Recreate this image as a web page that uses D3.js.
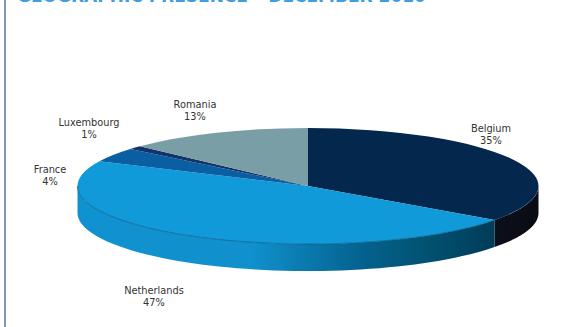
<!DOCTYPE html>
<html>
<head>
<meta charset="utf-8">
<style>
html, body { margin: 0; padding: 0; background: #fff; }
svg { display: block; }
text { font-family: "DejaVu Sans", sans-serif; }
</style>
<script src="https://cdn.jsdelivr.net/npm/d3@7"></script>
</head>
<body>
<div id="chart"></div>
<script>
// Geographic split of the portfolio, in percent, clockwise from twelve o'clock
const countries = ["Belgium", "Netherlands", "France", "Luxembourg", "Romania"];
const shares = [35, 47, 4, 1, 13];
const topColors = ["#03274d", "#109ada", "#0a5fa3", "#12336b", "#7a9ea6"];
const titleText = "GEOGRAPHIC PRESENCE \u2013 DECEMBER 2010";

const W = 576, H = 327;
const cx = 308, cy = 186, rx = 230.5, ry = 58, depth = 27;

const svg = d3.select("#chart").append("svg").attr("width", W).attr("height", H);

const pie = d3.pie().sort(null)(shares);
const px = a => cx + rx * Math.sin(a);
const py = a => cy - ry * Math.cos(a);

// Horizontal shading for the rim of each slice
const defs = svg.append("defs");
const rimStops = [
  [["0%", "#0c0e1a"], ["100%", "#0a0c14"]],
  [["0%", "#1192d0"], ["42%", "#1090cc"], ["68%", "#04628f"], ["85%", "#02506f"], ["100%", "#003c58"]]
];
rimStops.forEach((stops, i) => {
  const lg = defs.append("linearGradient").attr("id", `rim-${i}`)
    .attr("gradientUnits", "userSpaceOnUse")
    .attr("x1", i === 1 ? cx - rx : px(pie[0].endAngle))
    .attr("x2", i === 1 ? px(pie[1].startAngle) : cx + rx)
    .attr("y1", 0).attr("y2", 0);
  stops.forEach(s => lg.append("stop").attr("offset", s[0]).attr("stop-color", s[1]));
});

// Side wall: only the part of a slice between 90 and 270 degrees faces the viewer
const frontStart = Math.PI / 2, frontEnd = 3 * Math.PI / 2;
const rim = svg.append("g");
pie.forEach((d, i) => {
  const a0 = Math.max(d.startAngle, frontStart), a1 = Math.min(d.endAngle, frontEnd);
  if (a1 <= a0) return;
  const samples = d3.range(0, 61).map(k => a0 + (a1 - a0) * k / 60);
  const wall = d3.area().x(a => px(a)).y0(a => py(a)).y1(a => py(a) + depth);
  rim.append("path").attr("d", wall(samples))
    .attr("fill", `url(#rim-${i})`);
});

// Top face: circular arcs flattened into the ellipse
const arc = d3.arc().innerRadius(0).outerRadius(rx);
svg.append("g")
  .attr("transform", `translate(${cx},${cy}) scale(1,${ry / rx})`)
  .selectAll("path").data(pie).join("path")
  .attr("d", arc)
  .attr("fill", (d, i) => topColors[i]);

// Thin dark edge where the top face meets the blue rim
const edge = d3.range(0, 61).map(k => pie[1].startAngle + (frontEnd - pie[1].startAngle) * k / 60);
svg.append("path")
  .attr("d", d3.line().x(a => px(a)).y(a => py(a))(edge))
  .attr("fill", "none").attr("stroke", "#0a5f8c").attr("stroke-width", 0.8);

// Category labels
const labelX = [491, 154, 50, 89, 195];
const labelY = [132, 294, 173, 126, 108];
const labels = svg.append("g").attr("font-size", 9.8).attr("fill", "#333").attr("text-anchor", "middle");
countries.forEach((c, i) => {
  labels.append("text").attr("x", labelX[i]).attr("y", labelY[i]).text(c);
  labels.append("text").attr("x", labelX[i]).attr("y", labelY[i] + 11.5).text(shares[i] + "%");
});

// Panel border and the heading running off the top edge
svg.append("line").attr("x1", 5).attr("x2", 5).attr("y1", 0).attr("y2", H)
  .attr("stroke", "#8296b3").attr("stroke-width", 2);
svg.append("text").attr("x", 17).attr("y", 2)
  .attr("font-size", 17).attr("font-weight", "bold").attr("fill", "#3f9de0")
  .text(titleText);
</script>
</body>
</html>
